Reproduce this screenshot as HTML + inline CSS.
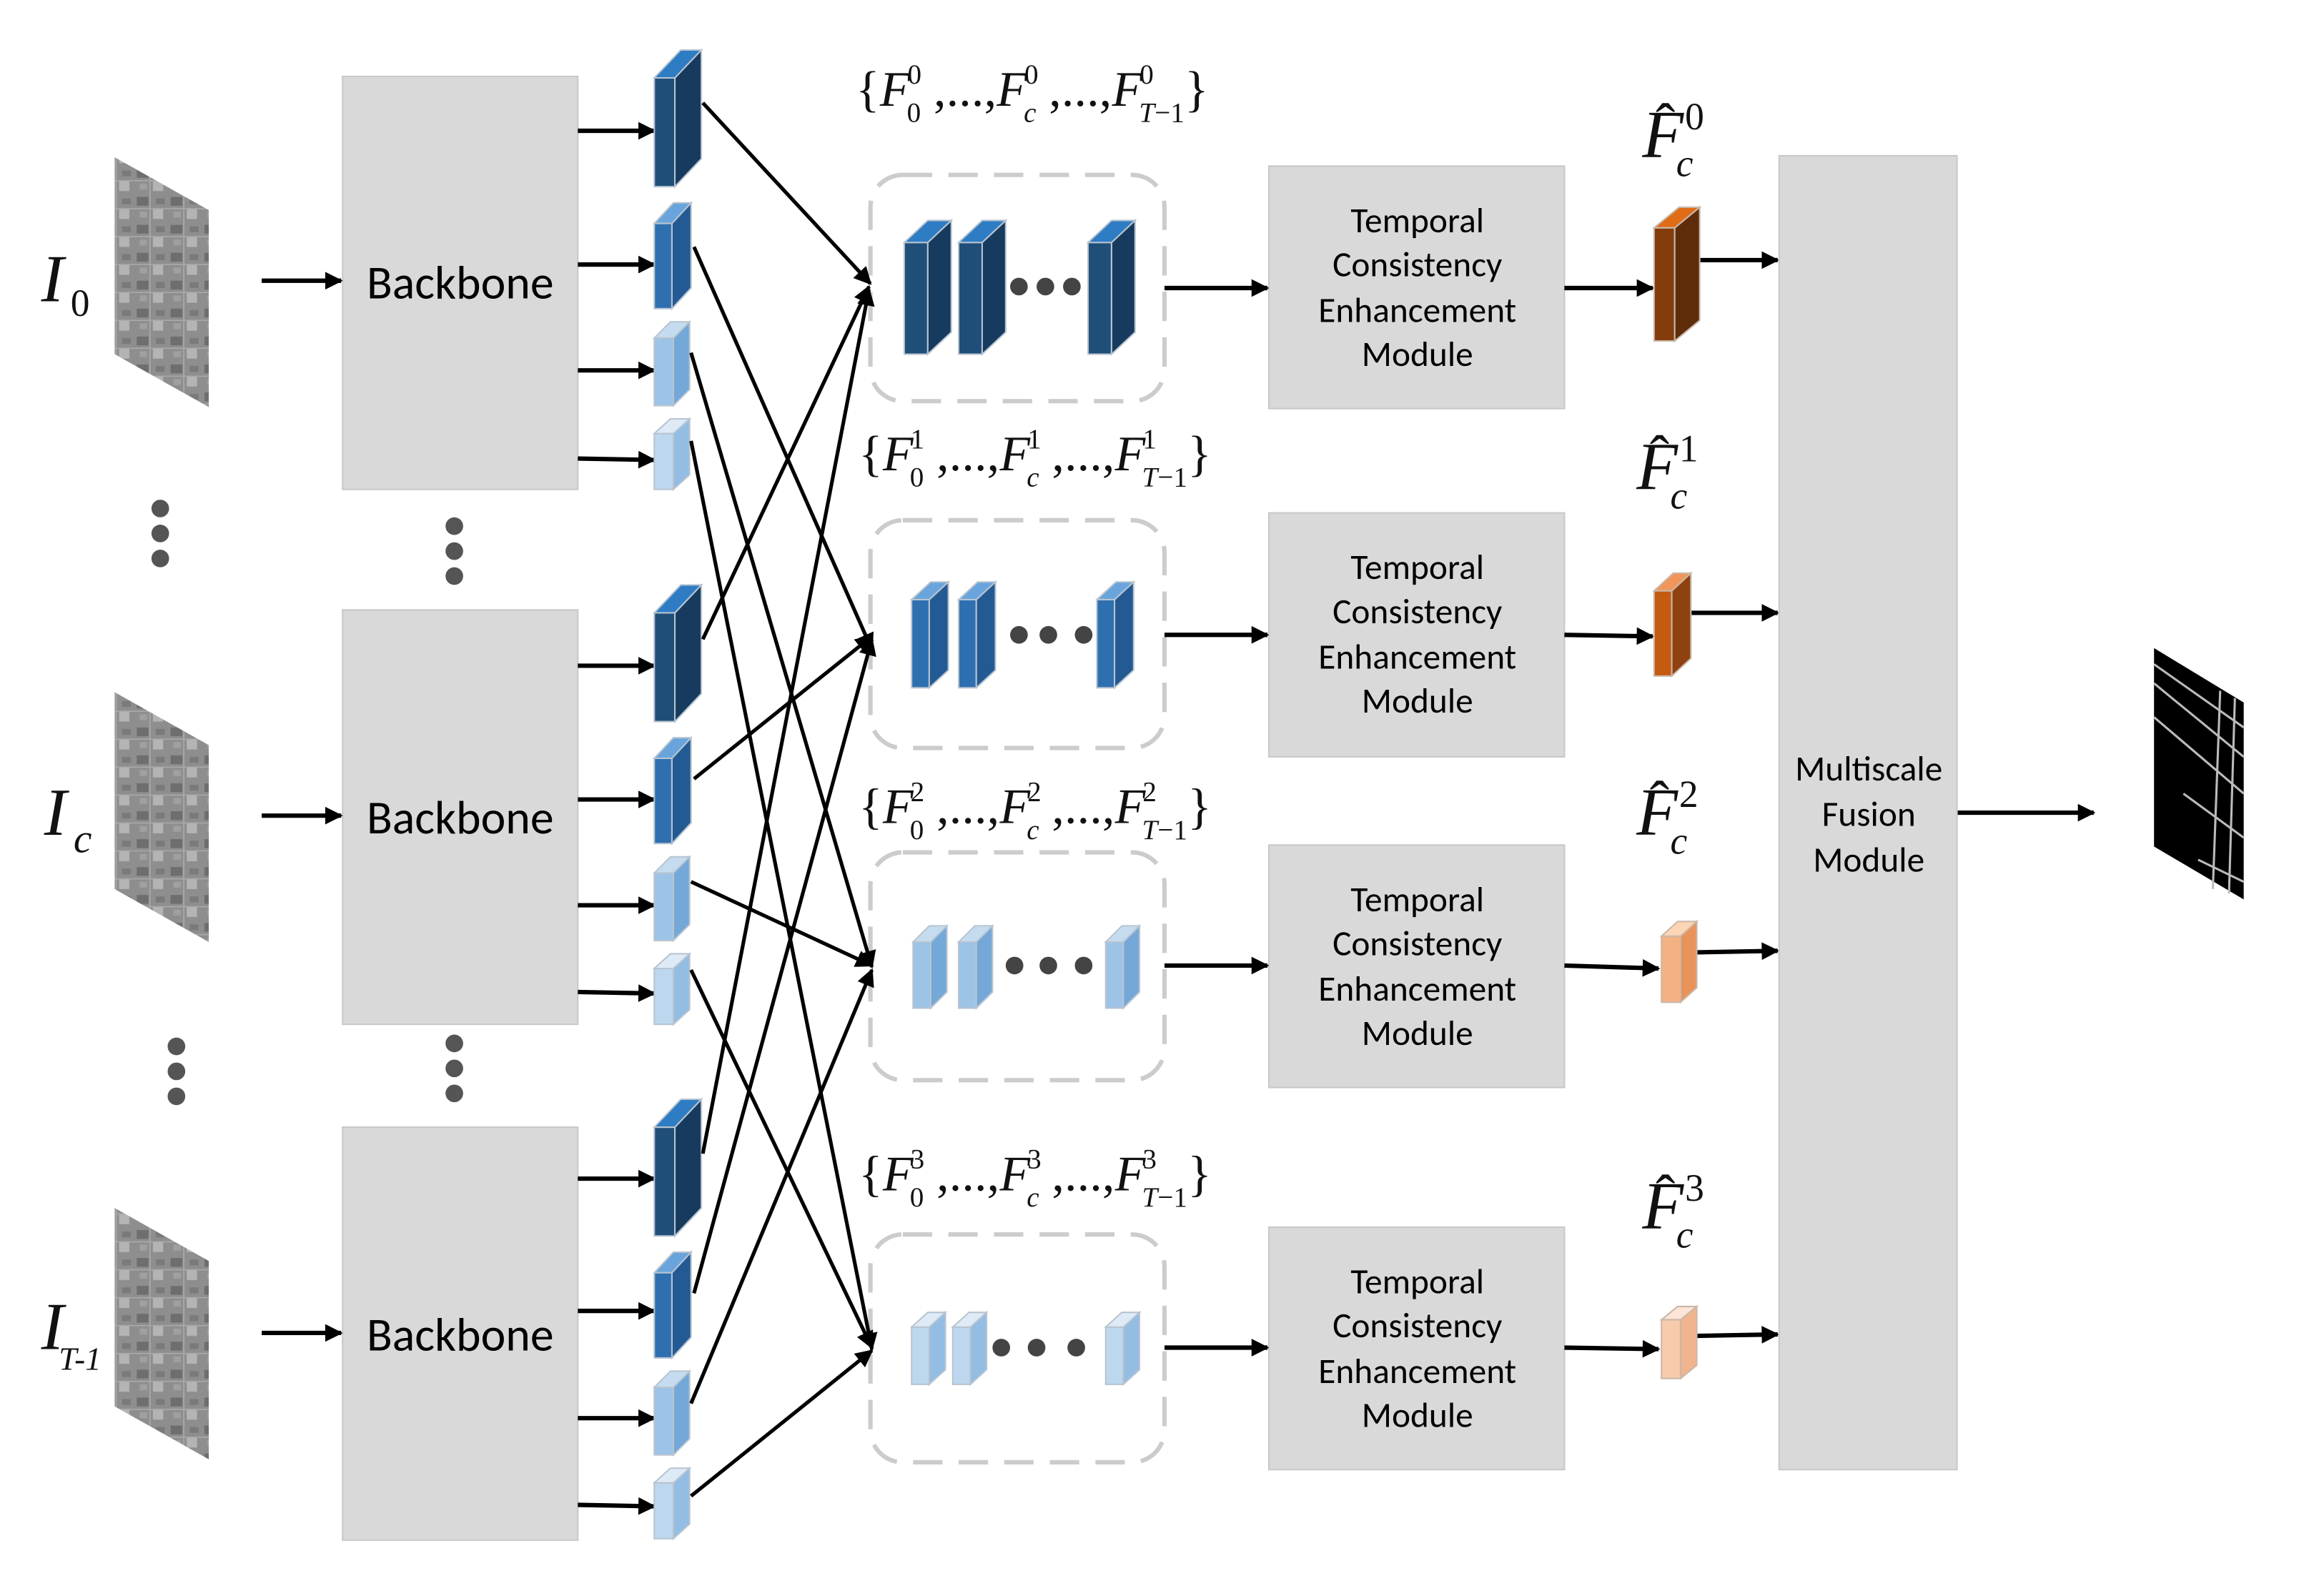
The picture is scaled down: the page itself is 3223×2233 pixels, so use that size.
<!DOCTYPE html>
<html><head><meta charset="utf-8"><style>
html,body{margin:0;padding:0;background:#fff;}
svg{display:block;}
.s{font-family:Carlito,"Liberation Sans",sans-serif;fill:#000;}
.m{font-family:"Liberation Serif",serif;fill:#111;}
</style></head><body>
<svg width="3223" height="2233" viewBox="0 0 1567 1086" preserveAspectRatio="none" xmlns="http://www.w3.org/2000/svg">
<defs>
<marker id="b" viewBox="0 0 10 10" refX="9" refY="5" markerWidth="14" markerHeight="12" markerUnits="userSpaceOnUse" orient="auto"><path d="M0,0 L10,5 L0,10 z" fill="#000"/></marker>
<pattern id="sat" width="23" height="19" patternUnits="userSpaceOnUse">
<rect width="23" height="19" fill="#8e8e8e"/><rect x="1" y="1" width="8" height="6" fill="#6e6e6e"/><rect x="12" y="9" width="7" height="7" fill="#b4b4b4"/><rect x="3" y="11" width="5" height="4" fill="#a0a0a0"/><rect x="14" y="2" width="6" height="4" fill="#7a7a7a"/><path d="M0,9 H23 M10,0 V19" stroke="#aaa" stroke-width="0.8"/>
</pattern>
</defs>

<polygon points="78,107 142,143 142,277 78,241" fill="url(#sat)"/>
<polygon points="78,471 142,507 142,641 78,605" fill="url(#sat)"/>
<polygon points="78,822 142,858 142,993 78,957" fill="url(#sat)"/>

<text class="m" x="28" y="205" font-size="46" font-style="italic">I</text><text class="m" x="48" y="215" font-size="26">0</text>
<text class="m" x="30" y="568" font-size="46" font-style="italic">I</text><text class="m" x="50" y="580" font-size="28" font-style="italic">c</text>
<text class="m" x="28" y="918" font-size="46" font-style="italic">I</text><text class="m" x="40" y="932" font-size="22" font-style="italic">T-1</text>

<g fill="#555"><circle cx="109" cy="346" r="6"/><circle cx="109" cy="363" r="6"/><circle cx="109" cy="380" r="6"/>
<circle cx="309" cy="358" r="6"/><circle cx="309" cy="375" r="6"/><circle cx="309" cy="392" r="6"/>
<circle cx="120" cy="712" r="6"/><circle cx="120" cy="729" r="6"/><circle cx="120" cy="746" r="6"/>
<circle cx="309" cy="710" r="6"/><circle cx="309" cy="727" r="6"/><circle cx="309" cy="744" r="6"/></g>

<g fill="#d9d9d9" stroke="#c8c8c8" stroke-width="1">
<rect x="233" y="52" width="160" height="281"/>
<rect x="233" y="415" width="160" height="282"/>
<rect x="233" y="767" width="160" height="281"/>
</g>
<text class="s" x="313" y="203" font-size="32" text-anchor="middle">Backbone</text>
<text class="s" x="313" y="567" font-size="32" text-anchor="middle">Backbone</text>
<text class="s" x="313" y="919" font-size="32" text-anchor="middle">Backbone</text>

<g stroke="#000" stroke-width="3" fill="none" marker-end="url(#b)">
<line x1="178" y1="191" x2="232" y2="191"/><line x1="178" y1="555" x2="232" y2="555"/><line x1="178" y1="907" x2="232" y2="907"/>
<line x1="393" y1="89" x2="445" y2="89"/><line x1="393" y1="180" x2="445" y2="180"/><line x1="393" y1="252" x2="445" y2="252"/><line x1="393" y1="312" x2="445" y2="313"/>
<line x1="393" y1="453" x2="445" y2="453"/><line x1="393" y1="544" x2="445" y2="544"/><line x1="393" y1="616" x2="445" y2="616"/><line x1="393" y1="675" x2="445" y2="676"/>
<line x1="393" y1="802" x2="445" y2="802"/><line x1="393" y1="892" x2="445" y2="892"/><line x1="393" y1="965" x2="445" y2="965"/><line x1="393" y1="1024" x2="445" y2="1025"/>
</g>

<g id="bk" stroke="#b8c4d0" stroke-width="1">
<rect x="445" y="53" width="14" height="74" fill="#1f4e79"/><polygon points="459,53 477,34 477,108 459,127" fill="#173b5e"/><polygon points="445,53 463,34 477,34 459,53" fill="#2e7cc4"/>
<rect x="445" y="152" width="12" height="58" fill="#2e6fb0"/><polygon points="457,152 470,138 470,196 457,210" fill="#235a93"/><polygon points="445,152 458,138 470,138 457,152" fill="#69a5dc"/>
<rect x="445" y="230" width="13" height="46" fill="#9dc3e6"/><polygon points="458,230 469,219 469,265 458,276" fill="#74a8d8"/><polygon points="445,230 456,219 469,219 458,230" fill="#c5dcf0"/>
<rect x="445" y="295" width="13" height="38" fill="#bdd7ee"/><polygon points="458,295 469,285 469,323 458,333" fill="#94bde3"/><polygon points="445,295 456,285 469,285 458,295" fill="#deebf7"/>
</g>
<use href="#bk" y="364"/>
<use href="#bk" y="714"/>

<g fill="none" stroke="#cccccc" stroke-width="3" stroke-dasharray="20,11">
<rect x="592" y="119" width="200" height="154" rx="22"/>
<rect x="592" y="354" width="200" height="155" rx="22"/>
<rect x="592" y="580" width="200" height="155" rx="22"/>
<rect x="592" y="840" width="200" height="155" rx="22"/>
</g>

<g stroke="#b8c4d0" stroke-width="1">
<g id="g0"><rect x="615" y="165" width="16" height="76" fill="#1f4e79"/><polygon points="631,165 647,150 647,226 631,241" fill="#173b5e"/><polygon points="615,165 631,150 647,150 631,165" fill="#2e7cc4"/></g>
<use href="#g0" x="37"/><use href="#g0" x="125"/>
<g id="g1"><rect x="620" y="408" width="12" height="60" fill="#2e6fb0"/><polygon points="632,408 645,396 645,456 632,468" fill="#235a93"/><polygon points="620,408 633,396 645,396 632,408" fill="#69a5dc"/></g>
<use href="#g1" x="32"/><use href="#g1" x="126"/>
<g id="g2"><rect x="621" y="641" width="12" height="45" fill="#9dc3e6"/><polygon points="633,641 644,630 644,675 633,686" fill="#74a8d8"/><polygon points="621,641 632,630 644,630 633,641" fill="#c5dcf0"/></g>
<use href="#g2" x="31"/><use href="#g2" x="131"/>
<g id="g3"><rect x="620" y="903" width="12" height="39" fill="#bdd7ee"/><polygon points="632,903 643,893 643,932 632,942" fill="#94bde3"/><polygon points="620,903 631,893 643,893 632,903" fill="#deebf7"/></g>
<use href="#g3" x="28"/><use href="#g3" x="132"/>
</g>
<g fill="#444">
<circle cx="693" cy="195" r="6"/><circle cx="711" cy="195" r="6"/><circle cx="729" cy="195" r="6"/>
<circle cx="693" cy="432" r="6"/><circle cx="713" cy="432" r="6"/><circle cx="737" cy="432" r="6"/>
<circle cx="690" cy="657" r="6"/><circle cx="713" cy="657" r="6"/><circle cx="737" cy="657" r="6"/>
<circle cx="681" cy="917" r="6"/><circle cx="705" cy="917" r="6"/><circle cx="732" cy="917" r="6"/>
</g>

<g class="m" font-size="34">
<text x="582" y="72" textLength="240" lengthAdjust="spacing">{<tspan font-style="italic">F</tspan><tspan font-size="19" dx="-2" dy="-15">0</tspan><tspan font-size="19" dx="-10" dy="26">0</tspan><tspan dy="-11"> ,...,</tspan><tspan font-style="italic">F</tspan><tspan font-size="19" dx="-2" dy="-15">0</tspan><tspan font-size="19" font-style="italic" dx="-10" dy="26">c</tspan><tspan dy="-11"> ,...,</tspan><tspan font-style="italic">F</tspan><tspan font-size="19" dx="-2" dy="-15">0</tspan><tspan font-size="19" dx="-10" dy="26" font-style="italic">T</tspan><tspan font-size="19">−1</tspan><tspan dy="-11">}</tspan></text>
<text x="584" y="320" textLength="240" lengthAdjust="spacing">{<tspan font-style="italic">F</tspan><tspan font-size="19" dx="-2" dy="-15">1</tspan><tspan font-size="19" dx="-10" dy="26">0</tspan><tspan dy="-11"> ,...,</tspan><tspan font-style="italic">F</tspan><tspan font-size="19" dx="-2" dy="-15">1</tspan><tspan font-size="19" font-style="italic" dx="-10" dy="26">c</tspan><tspan dy="-11"> ,...,</tspan><tspan font-style="italic">F</tspan><tspan font-size="19" dx="-2" dy="-15">1</tspan><tspan font-size="19" dx="-10" dy="26" font-style="italic">T</tspan><tspan font-size="19">−1</tspan><tspan dy="-11">}</tspan></text>
<text x="584" y="560" textLength="240" lengthAdjust="spacing">{<tspan font-style="italic">F</tspan><tspan font-size="19" dx="-2" dy="-15">2</tspan><tspan font-size="19" dx="-10" dy="26">0</tspan><tspan dy="-11"> ,...,</tspan><tspan font-style="italic">F</tspan><tspan font-size="19" dx="-2" dy="-15">2</tspan><tspan font-size="19" font-style="italic" dx="-10" dy="26">c</tspan><tspan dy="-11"> ,...,</tspan><tspan font-style="italic">F</tspan><tspan font-size="19" dx="-2" dy="-15">2</tspan><tspan font-size="19" dx="-10" dy="26" font-style="italic">T</tspan><tspan font-size="19">−1</tspan><tspan dy="-11">}</tspan></text>
<text x="584" y="810" textLength="240" lengthAdjust="spacing">{<tspan font-style="italic">F</tspan><tspan font-size="19" dx="-2" dy="-15">3</tspan><tspan font-size="19" dx="-10" dy="26">0</tspan><tspan dy="-11"> ,...,</tspan><tspan font-style="italic">F</tspan><tspan font-size="19" dx="-2" dy="-15">3</tspan><tspan font-size="19" font-style="italic" dx="-10" dy="26">c</tspan><tspan dy="-11"> ,...,</tspan><tspan font-style="italic">F</tspan><tspan font-size="19" dx="-2" dy="-15">3</tspan><tspan font-size="19" dx="-10" dy="26" font-style="italic">T</tspan><tspan font-size="19">−1</tspan><tspan dy="-11">}</tspan></text>
</g>

<g stroke="#000" stroke-width="2.5" fill="none" marker-end="url(#b)">
<line x1="478" y1="70" x2="592" y2="193"/>
<line x1="472" y1="168" x2="593" y2="442"/>
<line x1="470" y1="240" x2="593" y2="658"/>
<line x1="470" y1="300" x2="593" y2="918"/>
<line x1="478" y1="435" x2="591" y2="195"/>
<line x1="472" y1="530" x2="593" y2="433"/>
<line x1="470" y1="600" x2="593" y2="657"/>
<line x1="470" y1="660" x2="593" y2="917"/>
<line x1="478" y1="785" x2="591" y2="197"/>
<line x1="472" y1="880" x2="593" y2="435"/>
<line x1="470" y1="955" x2="593" y2="660"/>
<line x1="470" y1="1018" x2="593" y2="919"/>
</g>

<g fill="#d9d9d9" stroke="#c8c8c8" stroke-width="1">
<rect x="863" y="113" width="201" height="165"/>
<rect x="863" y="349" width="201" height="166"/>
<rect x="863" y="575" width="201" height="165"/>
<rect x="863" y="835" width="201" height="165"/>
</g>
<g class="s" font-size="24" text-anchor="middle">
<text x="964" y="158">Temporal</text><text x="964" y="188">Consistency</text><text x="964" y="219">Enhancement</text><text x="964" y="249">Module</text>
<text x="964" y="394">Temporal</text><text x="964" y="424">Consistency</text><text x="964" y="455">Enhancement</text><text x="964" y="485">Module</text>
<text x="964" y="620">Temporal</text><text x="964" y="650">Consistency</text><text x="964" y="681">Enhancement</text><text x="964" y="711">Module</text>
<text x="964" y="880">Temporal</text><text x="964" y="910">Consistency</text><text x="964" y="941">Enhancement</text><text x="964" y="971">Module</text>
</g>

<g stroke="#000" stroke-width="3" fill="none" marker-end="url(#b)">
<line x1="792" y1="196" x2="862" y2="196"/><line x1="792" y1="432" x2="862" y2="432"/><line x1="792" y1="657" x2="862" y2="657"/><line x1="792" y1="917" x2="862" y2="917"/>
<line x1="1064" y1="196" x2="1124" y2="196"/><line x1="1064" y1="432" x2="1124" y2="433"/><line x1="1064" y1="657" x2="1128" y2="659"/><line x1="1064" y1="917" x2="1128" y2="918"/>
<line x1="1156" y1="177" x2="1209" y2="177"/><line x1="1150" y1="417" x2="1209" y2="417"/><line x1="1154" y1="648" x2="1209" y2="647"/><line x1="1154" y1="909" x2="1209" y2="908"/>
<line x1="1331" y1="553" x2="1424" y2="553"/>
</g>

<g stroke="#c9b8a8" stroke-width="1">
<rect x="1125" y="155" width="14" height="77" fill="#843c0c"/><polygon points="1139,155 1156,141 1156,218 1139,232" fill="#5f2c0a"/><polygon points="1125,155 1142,141 1156,141 1139,155" fill="#e06c18"/>
<rect x="1125" y="402" width="12" height="58" fill="#c55a11"/><polygon points="1137,402 1150,390 1150,448 1137,460" fill="#8f420f"/><polygon points="1125,402 1138,390 1150,390 1137,402" fill="#f0965a"/>
<rect x="1130" y="637" width="13" height="45" fill="#f4b183"/><polygon points="1143,637 1154,627 1154,672 1143,682" fill="#e9935b"/><polygon points="1130,637 1141,627 1154,627 1143,637" fill="#fbd5b5"/>
<rect x="1130" y="898" width="13" height="40" fill="#f8cbad"/><polygon points="1143,898 1154,889 1154,929 1143,938" fill="#f0b48e"/><polygon points="1130,898 1141,889 1154,889 1143,898" fill="#fce4d6"/>
</g>

<g class="m">
<text x="1117" y="107" font-size="46" font-style="italic">F</text><text x="1126" y="98" font-size="40">ˆ</text><text x="1146" y="88" font-size="26">0</text><text x="1140" y="120" font-size="26" font-style="italic">c</text>
<text x="1113" y="333" font-size="46" font-style="italic">F</text><text x="1122" y="324" font-size="40">ˆ</text><text x="1142" y="314" font-size="26">1</text><text x="1136" y="346" font-size="26" font-style="italic">c</text>
<text x="1113" y="568" font-size="46" font-style="italic">F</text><text x="1122" y="559" font-size="40">ˆ</text><text x="1142" y="549" font-size="26">2</text><text x="1136" y="581" font-size="26" font-style="italic">c</text>
<text x="1117" y="836" font-size="46" font-style="italic">F</text><text x="1126" y="827" font-size="40">ˆ</text><text x="1146" y="817" font-size="26">3</text><text x="1140" y="849" font-size="26" font-style="italic">c</text>
</g>

<rect x="1210" y="106" width="121" height="894" fill="#d9d9d9" stroke="#c8c8c8" stroke-width="1"/>
<g class="s" font-size="24" text-anchor="middle">
<text x="1271" y="531">Multiscale</text><text x="1271" y="562">Fusion</text><text x="1271" y="593">Module</text>
</g>

<polygon points="1465,441 1526,478 1526,612 1465,576" fill="#000"/>
<g stroke="#bbb" stroke-width="1.5" fill="none">
<line x1="1465" y1="452" x2="1526" y2="495"/><line x1="1465" y1="465" x2="1526" y2="515"/><line x1="1465" y1="488" x2="1526" y2="540"/>
<line x1="1510" y1="470" x2="1505" y2="605"/><line x1="1520" y1="475" x2="1516" y2="608"/><line x1="1485" y1="540" x2="1526" y2="570"/><line x1="1495" y1="585" x2="1526" y2="600"/>
</g>
</svg>
</body></html>
